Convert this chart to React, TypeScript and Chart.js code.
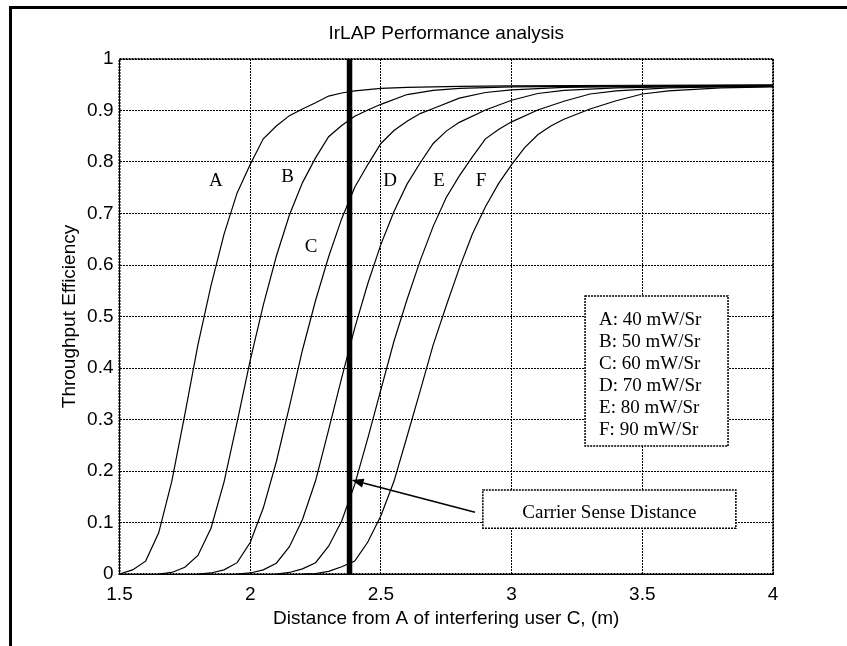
import React, { useEffect, useRef } from 'react';
import { Chart, registerables } from 'chart.js';

Chart.register(...registerables);

const SANS = '"Liberation Sans", Arial, sans-serif';
const SERIF = '"Liberation Serif", "Times New Roman", serif';

// ---- data ----
const curveNames = ['A', 'B', 'C', 'D', 'E', 'F'];

const curveAX = [1.5, 1.55, 1.6, 1.65, 1.7, 1.75, 1.8, 1.85, 1.9, 1.95, 2.0, 2.05, 2.1, 2.15, 2.2, 2.25, 2.3, 2.35, 2.4, 2.5, 2.6, 2.8, 3.0, 3.5, 4.0];
const curveAY = [0.0, 0.008, 0.025, 0.08, 0.18, 0.31, 0.445, 0.56, 0.66, 0.74, 0.795, 0.845, 0.87, 0.89, 0.903, 0.915, 0.928, 0.934, 0.938, 0.943, 0.945, 0.947, 0.948, 0.949, 0.95];

const curveBX = [1.65, 1.7, 1.75, 1.8, 1.85, 1.9, 1.95, 2.0, 2.05, 2.1, 2.15, 2.2, 2.25, 2.3, 2.35, 2.4, 2.45, 2.5, 2.6, 2.7, 2.8, 3.0, 3.5, 4.0];
const curveBY = [0.0, 0.003, 0.013, 0.036, 0.089, 0.179, 0.295, 0.415, 0.522, 0.617, 0.697, 0.76, 0.808, 0.849, 0.871, 0.889, 0.901, 0.912, 0.931, 0.939, 0.943, 0.946, 0.948, 0.949];

const curveCX = [1.8, 1.85, 1.9, 1.95, 2.0, 2.05, 2.1, 2.15, 2.2, 2.25, 2.3, 2.35, 2.4, 2.45, 2.5, 2.55, 2.6, 2.65, 2.7, 2.8, 2.9, 3.0, 3.2, 3.5, 4.0];
const curveCY = [0.0, 0.002, 0.008, 0.022, 0.061, 0.128, 0.218, 0.325, 0.435, 0.531, 0.616, 0.69, 0.751, 0.795, 0.836, 0.861, 0.879, 0.894, 0.904, 0.924, 0.935, 0.94, 0.945, 0.947, 0.948];

const curveDX = [1.95, 2.0, 2.05, 2.1, 2.15, 2.2, 2.25, 2.3, 2.35, 2.4, 2.45, 2.5, 2.55, 2.6, 2.65, 2.7, 2.75, 2.8, 2.9, 3.0, 3.1, 3.2, 3.4, 3.6, 4.0];
const curveDY = [0.0, 0.002, 0.008, 0.021, 0.053, 0.106, 0.181, 0.28, 0.381, 0.478, 0.564, 0.64, 0.704, 0.757, 0.798, 0.836, 0.86, 0.877, 0.901, 0.92, 0.933, 0.939, 0.944, 0.946, 0.948];

const curveEX = [2.1, 2.15, 2.2, 2.25, 2.3, 2.35, 2.4, 2.45, 2.5, 2.55, 2.6, 2.65, 2.7, 2.75, 2.8, 2.85, 2.9, 2.95, 3.0, 3.1, 3.2, 3.3, 3.4, 3.6, 3.8, 4.0];
const curveEY = [0.0, 0.003, 0.01, 0.022, 0.054, 0.103, 0.174, 0.264, 0.358, 0.452, 0.533, 0.608, 0.675, 0.731, 0.773, 0.81, 0.845, 0.863, 0.878, 0.901, 0.918, 0.932, 0.938, 0.944, 0.946, 0.947];

const curveFX = [2.2, 2.25, 2.3, 2.35, 2.4, 2.45, 2.5, 2.55, 2.6, 2.65, 2.7, 2.75, 2.8, 2.85, 2.9, 2.95, 3.0, 3.05, 3.1, 3.15, 3.2, 3.3, 3.4, 3.5, 3.6, 3.8, 4.0];
const curveFY = [0.0, 0.001, 0.005, 0.014, 0.025, 0.062, 0.113, 0.18, 0.267, 0.355, 0.445, 0.521, 0.594, 0.66, 0.713, 0.758, 0.795, 0.828, 0.853, 0.87, 0.883, 0.903, 0.919, 0.932, 0.938, 0.944, 0.946];

const curveXs = [curveAX, curveBX, curveCX, curveDX, curveEX, curveFX];
const curveYs = [curveAY, curveBY, curveCY, curveDY, curveEY, curveFY];

// curve letter labels (data coordinates)
const curveLabelX = [1.869, 2.143, 2.233, 2.535, 2.722, 2.883];
const curveLabelY = [0.764, 0.77, 0.634, 0.764, 0.764, 0.764];

// carrier sense distance marker
const carrierSenseX = 2.38;
const carrierSenseYRange = [0, 1];
const carrierText = 'Carrier Sense Distance';
const carrierBoxX = [2.89, 3.858];
const carrierBoxY = [0.163, 0.089];
const arrowTail = [2.86, 0.12];
const arrowTip = [2.388, 0.1825];

// legend
const legendLabels = ['A: 40 mW/Sr', 'B: 50 mW/Sr', 'C: 60 mW/Sr', 'D: 70 mW/Sr', 'E: 80 mW/Sr', 'F: 90 mW/Sr'];
const legendBoxX = [3.281, 3.828];
const legendBoxY = [0.54, 0.2485];

// axes
const xRange = [1.5, 4];
const xStep = 0.5;
const yRange = [0, 1];
const yStep = 0.1;
const titleText = 'IrLAP Performance analysis';
const xTitle = 'Distance from A of interfering user C, (m)';
const yTitle = 'Throughput Efficiency';

const fmtTick = (v: any) => String(parseFloat(Number(v).toFixed(2)));

const overlayPlugin = {
  id: 'overlay',
  afterDraw(chart: any) {
    const { ctx, chartArea: a, scales } = chart;
    const xs = scales.x;
    const ys = scales.y;
    const px = (v: number) => xs.getPixelForValue(v);
    const py = (v: number) => ys.getPixelForValue(v);
    ctx.save();

    // figure frame (top and left edges)
    ctx.setLineDash([]);
    ctx.strokeStyle = '#000';
    ctx.lineWidth = 3;
    ctx.beginPath();
    ctx.moveTo(10.5, chart.height);
    ctx.lineTo(10.5, 7.5);
    ctx.lineTo(chart.width, 7.5);
    ctx.stroke();

    // plot frame (dotted)
    ctx.lineWidth = 2;
    ctx.setLineDash([2, 1]);
    ctx.strokeRect(a.left, a.top, a.right - a.left, a.bottom - a.top);

    // legend box
    const lx0 = px(legendBoxX[0]);
    const lx1 = px(legendBoxX[1]);
    const ly0 = py(legendBoxY[0]);
    const ly1 = py(legendBoxY[1]);
    ctx.fillStyle = '#fff';
    ctx.fillRect(lx0, ly0, lx1 - lx0, ly1 - ly0);
    ctx.lineWidth = 1.5;
    ctx.setLineDash([2, 1]);
    ctx.strokeRect(lx0, ly0, lx1 - lx0, ly1 - ly0);
    ctx.fillStyle = '#000';
    ctx.font = `19px ${SERIF}`;
    ctx.textAlign = 'left';
    ctx.textBaseline = 'alphabetic';
    legendLabels.forEach((t, i) => {
      ctx.fillText(t, lx0 + 14, ly0 + 29 + i * 22);
    });

    // carrier sense box
    const cx0 = px(carrierBoxX[0]);
    const cx1 = px(carrierBoxX[1]);
    const cy0 = py(carrierBoxY[0]);
    const cy1 = py(carrierBoxY[1]);
    ctx.fillStyle = '#fff';
    ctx.fillRect(cx0, cy0, cx1 - cx0, cy1 - cy0);
    ctx.strokeRect(cx0, cy0, cx1 - cx0, cy1 - cy0);
    ctx.fillStyle = '#000';
    ctx.textAlign = 'center';
    ctx.fillText(carrierText, (cx0 + cx1) / 2, cy0 + 28);

    // arrow
    ctx.setLineDash([]);
    const tx = px(arrowTail[0]);
    const ty = py(arrowTail[1]);
    const hx = px(arrowTip[0]);
    const hy = py(arrowTip[1]);
    const ang = Math.atan2(hy - ty, hx - tx);
    const headLen = 12;
    const headHalf = 4.5;
    const bx = hx - headLen * Math.cos(ang);
    const by = hy - headLen * Math.sin(ang);
    ctx.lineWidth = 1.5;
    ctx.beginPath();
    ctx.moveTo(tx, ty);
    ctx.lineTo(bx, by);
    ctx.stroke();
    ctx.beginPath();
    ctx.moveTo(hx, hy);
    ctx.lineTo(bx + headHalf * Math.sin(ang), by - headHalf * Math.cos(ang));
    ctx.lineTo(bx - headHalf * Math.sin(ang), by + headHalf * Math.cos(ang));
    ctx.closePath();
    ctx.fill();

    // curve letters
    ctx.font = `19px ${SERIF}`;
    ctx.textAlign = 'center';
    ctx.textBaseline = 'middle';
    curveNames.forEach((n, i) => {
      ctx.fillText(n, px(curveLabelX[i]), py(curveLabelY[i]));
    });

    ctx.restore();
  },
};

export default function App() {
  const ref = useRef<HTMLCanvasElement>(null);

  useEffect(() => {
    const datasets: any[] = [
      {
        label: 'Carrier Sense Distance',
        data: carrierSenseYRange.map((v) => ({ x: carrierSenseX, y: v })),
        borderColor: '#000',
        borderWidth: 5.5,
        pointRadius: 0,
        fill: false,
        tension: 0,
      },
      ...curveNames.map((n, i) => ({
        label: n,
        data: curveXs[i].map((xv, j) => ({ x: xv, y: curveYs[i][j] })),
        borderColor: '#000',
        borderWidth: 1.2,
        pointRadius: 0,
        fill: false,
        tension: 0,
      })),
    ];

    const tickFont = { family: SANS, size: 19 };
    const chart = new Chart(ref.current as HTMLCanvasElement, {
      type: 'line',
      data: { datasets },
      options: {
        responsive: false,
        animation: false,
        devicePixelRatio: 1,
        layout: { padding: { left: 0, top: 0, right: 74, bottom: 0 } },
        plugins: {
          legend: { display: false },
          tooltip: { enabled: false },
          title: {
            display: true,
            text: titleText,
            fullSize: false,
            color: '#000',
            font: { family: SANS, size: 19, weight: 'normal' },
            padding: { top: 22, bottom: 14.2 },
          },
        },
        scales: {
          x: {
            type: 'linear',
            min: xRange[0],
            max: xRange[1],
            afterFit: (s: any) => {
              s.height = 72;
            },
            ticks: { stepSize: xStep, color: '#000', font: tickFont, padding: 9.7, maxRotation: 0, callback: fmtTick },
            grid: { color: '#000', lineWidth: 1, drawTicks: false },
            border: { display: false, dash: [2, 1] },
            title: {
              display: true,
              text: xTitle,
              color: '#000',
              font: tickFont,
              padding: { top: 0, bottom: 16.2 },
            },
          },
          y: {
            type: 'linear',
            min: yRange[0],
            max: yRange[1],
            afterFit: (s: any) => {
              s.width = 119.5;
            },
            ticks: { stepSize: yStep, color: '#000', font: tickFont, padding: 6, callback: fmtTick },
            grid: { color: '#000', lineWidth: 1, drawTicks: false },
            border: { display: false, dash: [2, 1] },
            title: {
              display: true,
              text: yTitle,
              color: '#000',
              font: tickFont,
              padding: { top: 58.7, bottom: 0 },
            },
          },
        },
      } as any,
      plugins: [overlayPlugin],
    });
    return () => chart.destroy();
  }, []);

  return (
    <div style={{ position: 'fixed', left: 0, top: 0, width: 847, height: 646, background: '#fff', overflow: 'hidden' }}>
      <canvas ref={ref} width={847} height={646} style={{ display: 'block' }} />
    </div>
  );
}
